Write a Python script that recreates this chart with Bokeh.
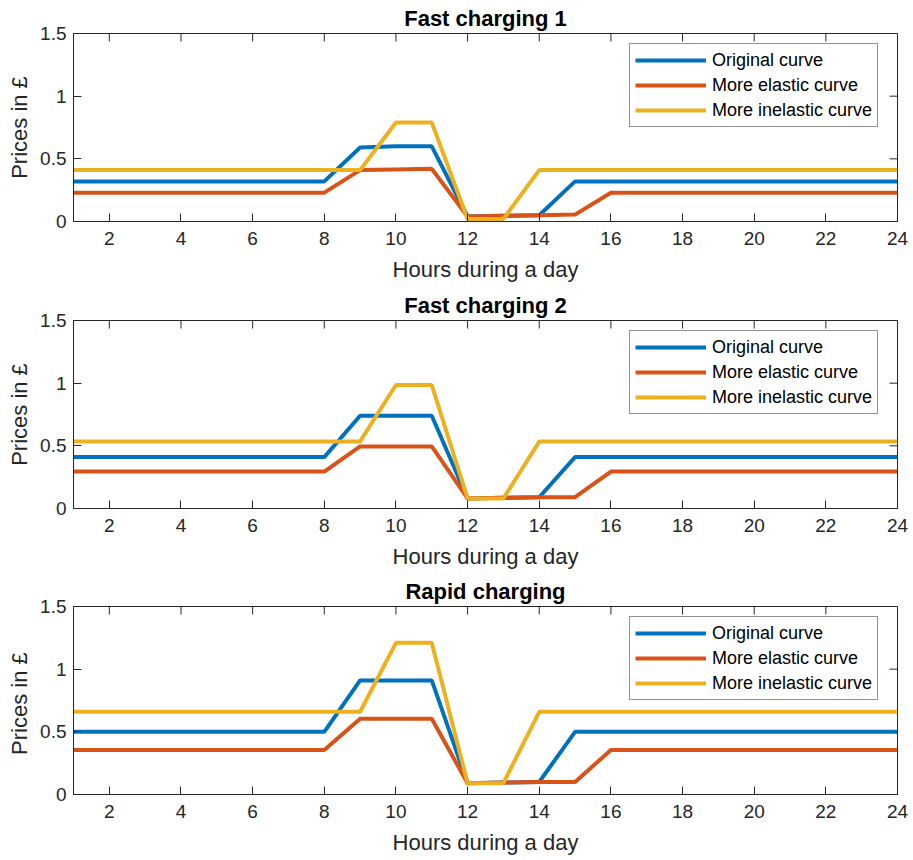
import math
from bokeh.plotting import figure
from bokeh.layouts import column
from bokeh.models import Range1d, FixedTicker
from bokeh.embed import file_html
from bokeh.resources import INLINE

hours = list(range(1, 25))
series_names = ["Original curve", "More elastic curve", "More inelastic curve"]
colors = ["#0072BD", "#D95319", "#EDB120"]

titles = ["Fast charging 1", "Fast charging 2", "Rapid charging"]
ylabels = ["Prices in £", "Prices in £", "Prices  in £"]
xlabel = "Hours during a day"
x_ticks = [2, 4, 6, 8, 10, 12, 14, 16, 18, 20, 22, 24]
y_ticks = [0, 0.5, 1, 1.5]
y_tick_labels = {0: "0", 0.5: "0.5", 1: "1", 1.5: "1.5"}

orig1 = [0.32, 0.32, 0.32, 0.32, 0.32, 0.32, 0.32, 0.32, 0.59, 0.60, 0.60, 0.04,
         0.045, 0.05, 0.32, 0.32, 0.32, 0.32, 0.32, 0.32, 0.32, 0.32, 0.32, 0.32]
elas1 = [0.23, 0.23, 0.23, 0.23, 0.23, 0.23, 0.23, 0.23, 0.41, 0.415, 0.42, 0.04,
         0.045, 0.05, 0.055, 0.23, 0.23, 0.23, 0.23, 0.23, 0.23, 0.23, 0.23, 0.23]
inel1 = [0.41, 0.41, 0.41, 0.41, 0.41, 0.41, 0.41, 0.41, 0.41, 0.79, 0.79, 0.02,
         0.02, 0.41, 0.41, 0.41, 0.41, 0.41, 0.41, 0.41, 0.41, 0.41, 0.41, 0.41]

orig2 = [0.41, 0.41, 0.41, 0.41, 0.41, 0.41, 0.41, 0.41, 0.74, 0.74, 0.74, 0.08,
         0.085, 0.09, 0.41, 0.41, 0.41, 0.41, 0.41, 0.41, 0.41, 0.41, 0.41, 0.41]
elas2 = [0.295, 0.295, 0.295, 0.295, 0.295, 0.295, 0.295, 0.295, 0.495, 0.495, 0.495, 0.08,
         0.085, 0.09, 0.09, 0.295, 0.295, 0.295, 0.295, 0.295, 0.295, 0.295, 0.295, 0.295]
inel2 = [0.535, 0.535, 0.535, 0.535, 0.535, 0.535, 0.535, 0.535, 0.535, 0.985, 0.985, 0.08,
         0.08, 0.535, 0.535, 0.535, 0.535, 0.535, 0.535, 0.535, 0.535, 0.535, 0.535, 0.535]

orig3 = [0.50, 0.50, 0.50, 0.50, 0.50, 0.50, 0.50, 0.50, 0.91, 0.91, 0.91, 0.09,
         0.095, 0.10, 0.50, 0.50, 0.50, 0.50, 0.50, 0.50, 0.50, 0.50, 0.50, 0.50]
elas3 = [0.355, 0.355, 0.355, 0.355, 0.355, 0.355, 0.355, 0.355, 0.605, 0.605, 0.605, 0.09,
         0.095, 0.10, 0.10, 0.355, 0.355, 0.355, 0.355, 0.355, 0.355, 0.355, 0.355, 0.355]
inel3 = [0.66, 0.66, 0.66, 0.66, 0.66, 0.66, 0.66, 0.66, 0.66, 1.21, 1.21, 0.09,
         0.09, 0.66, 0.66, 0.66, 0.66, 0.66, 0.66, 0.66, 0.66, 0.66, 0.66, 0.66]

panels = [(orig1, elas1, inel1), (orig2, elas2, inel2), (orig3, elas3, inel3)]

FONT = "Liberation Sans"
TXT = "#262626"
X_MIN, X_MAX = 1, 24
Y_MIN, Y_MAX = 0, 1.5

border_tops = [33, 33, 32]
figs = []
for i, (data, title, ylab) in enumerate(zip(panels, titles, ylabels)):
    p = figure(frame_width=824, frame_height=188, output_backend="svg", toolbar_location=None,
               x_range=Range1d(X_MIN, X_MAX), y_range=Range1d(Y_MIN, Y_MAX),
               min_border_left=73, min_border_right=16, min_border_top=border_tops[i],
               min_border_bottom=66)
    p.title.text = title
    p.title.align = "center"
    p.title.text_font = FONT
    p.title.text_font_size = "22px"
    p.title.text_font_style = "bold"
    p.title.text_color = "#000000"
    p.title.offset = 0
    p.title.standoff = 5
    p.xgrid.visible = False
    p.ygrid.visible = False
    p.outline_line_color = TXT
    p.outline_line_width = 1
    p.background_fill_color = "white"
    p.border_fill_color = "white"

    for ax in (p.xaxis[0], p.yaxis[0]):
        ax.major_tick_in = 8
        ax.major_tick_out = 0
        ax.minor_tick_in = 0
        ax.minor_tick_out = 0
        ax.axis_line_color = TXT
        ax.major_tick_line_color = TXT
        ax.major_label_text_font = FONT
        ax.major_label_text_font_size = "19px"
        ax.major_label_text_color = TXT
        ax.axis_label_text_font = FONT
        ax.axis_label_text_font_size = "22px"
        ax.axis_label_text_font_style = "normal"
        ax.axis_label_text_color = TXT
    p.xaxis[0].ticker = FixedTicker(ticks=x_ticks)
    p.yaxis[0].ticker = FixedTicker(ticks=y_ticks)
    p.yaxis[0].major_label_overrides = y_tick_labels
    p.xaxis[0].axis_label = xlabel
    p.yaxis[0].axis_label = ylab
    p.xaxis[0].major_label_standoff = 10
    p.yaxis[0].major_label_standoff = 7
    p.xaxis[0].axis_label_standoff = 9
    p.yaxis[0].axis_label_standoff = 5

    # mirrored ticks on the top and right edges of the box
    p.ray(x=x_ticks, y=[Y_MAX] * len(x_ticks), length=8, length_units="screen",
          angle=-math.pi / 2, line_color=TXT, line_width=1)
    p.ray(x=[X_MAX] * len(y_ticks), y=y_ticks, length=8, length_units="screen",
          angle=math.pi, line_color=TXT, line_width=1)

    for vals, name, col in zip(data, series_names, colors):
        p.line(hours, vals, line_color=col, line_width=4, legend_label=name)

    lg = p.legend[0]
    lg.location = (556, 94)
    lg.glyph_width = 71
    lg.glyph_height = 22
    lg.label_height = 22
    lg.label_standoff = 6
    lg.spacing = 3
    lg.padding = 5
    lg.margin = 0
    lg.label_text_font = FONT
    lg.label_text_font_size = "18px"
    lg.label_text_color = "#000000"
    lg.border_line_color = TXT
    lg.border_line_width = 1
    lg.background_fill_alpha = 1.0
    figs.append(p)

layout = column(*figs, spacing=0)
open("out.html", "w").write(file_html(layout, INLINE))
